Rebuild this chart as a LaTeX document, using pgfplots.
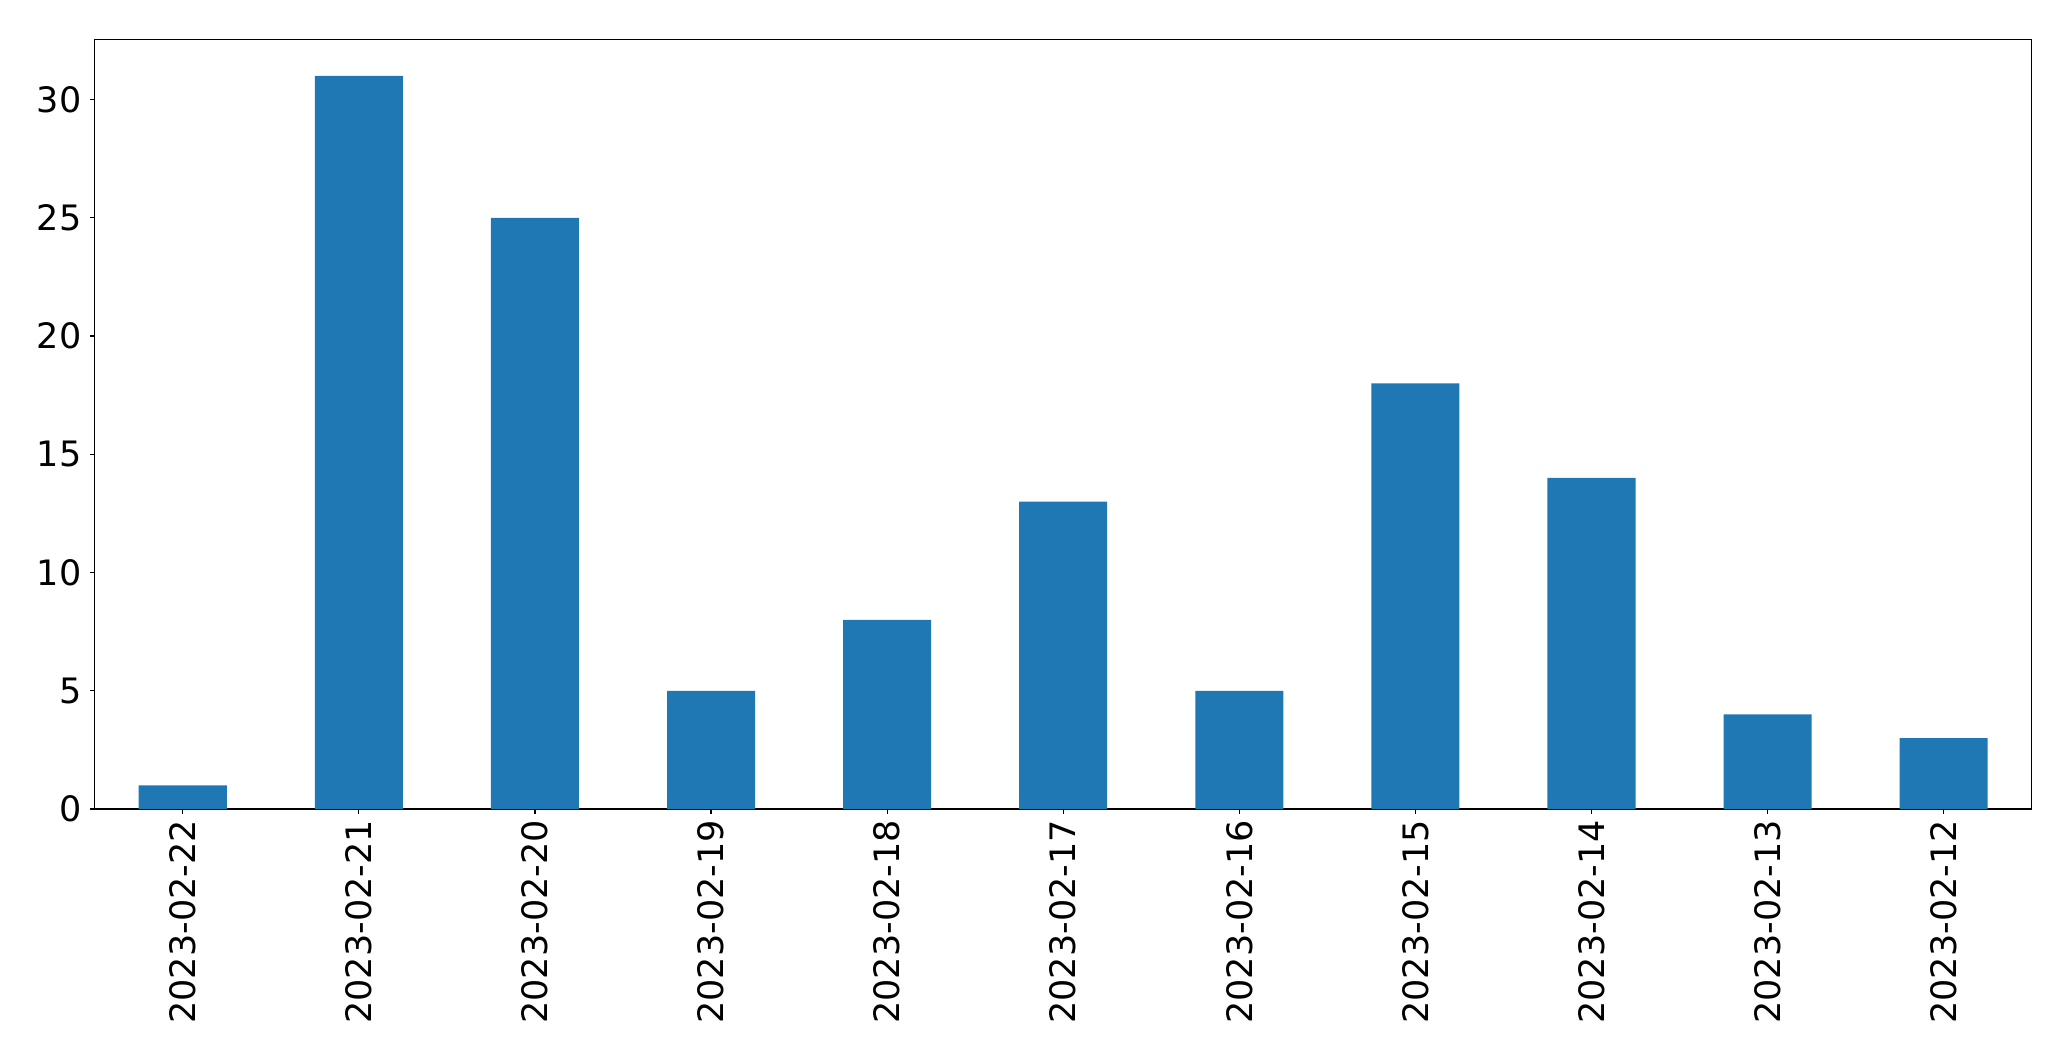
\documentclass[border=0pt]{standalone}
\usepackage{fontspec}
\setmainfont{DejaVu Sans}
\usepackage{pgfplots}
\pgfplotsset{compat=1.18}
\definecolor{barblue}{HTML}{1F77B4}
\begin{document}
\begin{tikzpicture}
\useasboundingbox (-47.35pt,-126pt) rectangle (988.15pt,404.5pt);
\begin{axis}[
  scale only axis,
  width=968.5pt, height=384.85pt,
  xmin=-0.5, xmax=10.5,
  ymin=0, ymax=32.55,
  xtick={0,...,10},
  xticklabels={2023-02-22,2023-02-21,2023-02-20,2023-02-19,2023-02-18,2023-02-17,2023-02-16,2023-02-15,2023-02-14,2023-02-13,2023-02-12},
  ytick={0,5,10,15,20,25,30},
  tick align=outside,
  major tick length=2.4pt,
  tick style={black, line width=0.6pt},
  axis line style={black, line width=0.6pt},
  xtick pos=bottom, ytick pos=left,
  /pgf/number format/assume math mode=true,
  tick label style={font=\fontsize{17.5pt}{20pt}\selectfont},
  xticklabel style={rotate=90, anchor=east, inner sep=0pt, xshift=-3pt},
  yticklabel style={inner sep=0pt, xshift=-4pt},
]
\addplot[ybar, bar width=0.5, bar shift=0pt, fill=barblue, draw=none, mark=none]
  coordinates {(0,1) (1,31) (2,25) (3,5) (4,8) (5,13) (6,5) (7,18) (8,14) (9,4) (10,3)};
\end{axis}
\end{tikzpicture}
\end{document}
